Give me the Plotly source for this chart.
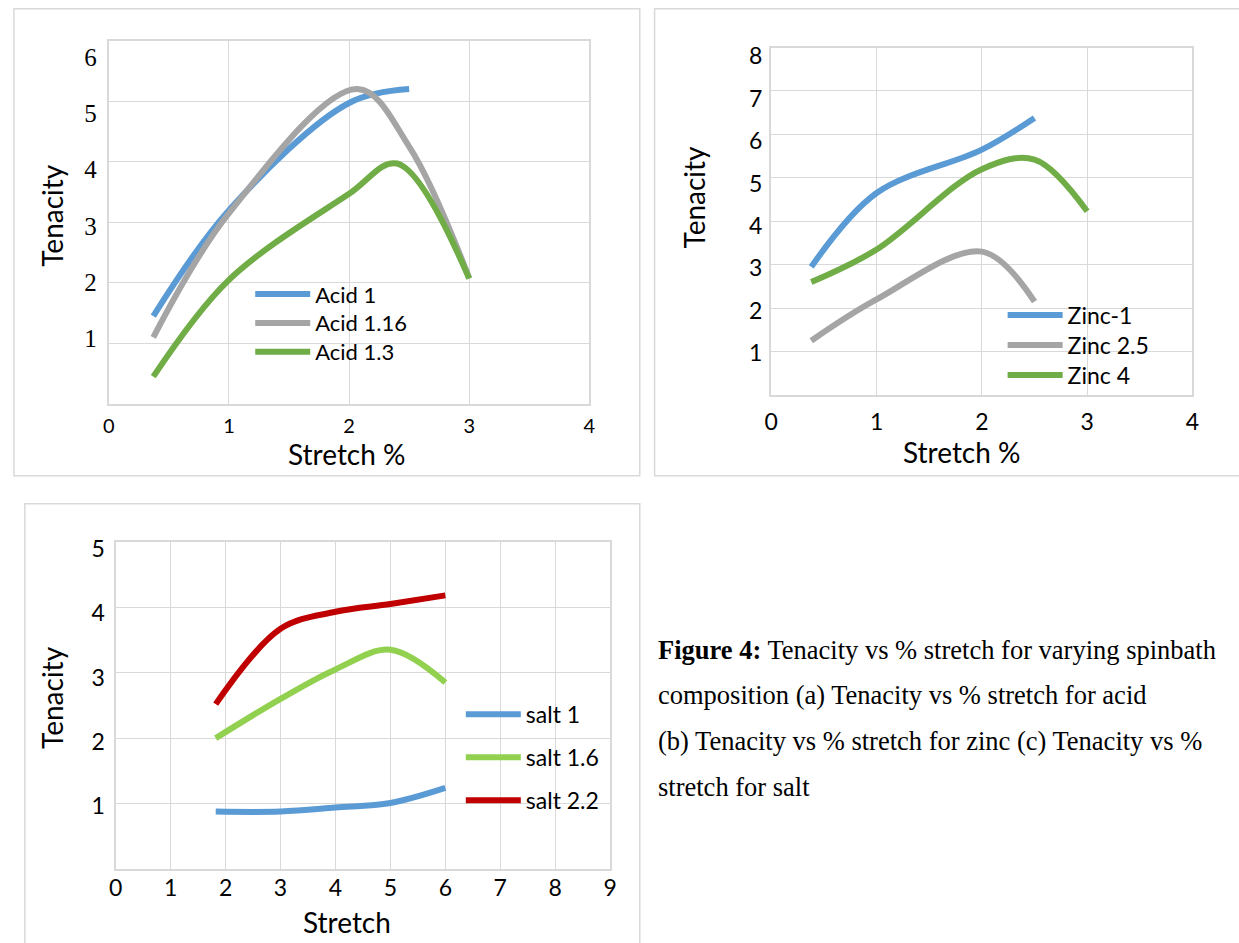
import plotly.graph_objects as go

W, H = 1239, 943
# small vertical correction for how the page is photographed (measured on earlier renders)
CY = 6.4
SY = H / (H + CY)

# ---------------- data ----------------
acid_names = ["Acid 1", "Acid 1.16", "Acid 1.3"]
acid1_x = [0.37, 1.0, 2.0, 2.5]
acid1_y = [1.45, 3.2, 4.97, 5.2]
acid116_x = [0.37, 1.0, 2.07, 2.5, 3.0]
acid116_y = [1.1, 3.15, 5.2, 4.25, 2.08]
acid13_x = [0.37, 1.0, 2.0, 2.4, 3.0]
acid13_y = [0.45, 2.05, 3.47, 3.97, 2.07]

zinc_names = ["Zinc-1", "Zinc 2.5", "Zinc 4"]
zinc1_x = [0.38, 1.0, 2.0, 2.5]
zinc1_y = [2.95, 4.65, 5.65, 6.38]
zinc25_x = [0.38, 1.0, 2.0, 2.5]
zinc25_y = [1.25, 2.2, 3.3, 2.15]
zinc4_x = [0.38, 1.0, 2.0, 2.5, 3.0]
zinc4_y = [2.6, 3.35, 5.2, 5.42, 4.23]

salt_names = ["salt 1", "salt 1.6", "salt 2.2"]
salt_x = [1.82, 3.0, 4.0, 5.0, 6.0]
salt1_y = [0.88, 0.88, 0.94, 1.01, 1.24]
salt16_y = [2.0, 2.6, 3.05, 3.35, 2.85]
salt22_y = [2.52, 3.67, 3.93, 4.05, 4.18]

acid_xticks = [0, 1, 2, 3, 4]
acid_yticks = [1, 2, 3, 4, 5, 6]
zinc_xticks = [0, 1, 2, 3, 4]
zinc_yticks = [1, 2, 3, 4, 5, 6, 7, 8]
salt_xticks = [0, 1, 2, 3, 4, 5, 6, 7, 8, 9]
salt_yticks = [1, 2, 3, 4, 5]

caption_lines = [
    "<b>Figure 4:</b> Tenacity vs % stretch for varying spinbath",
    "composition (a) Tenacity vs % stretch for acid",
    "(b) Tenacity vs % stretch for zinc (c) Tenacity vs %",
    "stretch for salt",
]

# ---------------- styling ----------------
BLUE = "#5B9BD5"
GRAY = "#A5A5A5"
GREEN = "#70AD47"
LGREEN = "#92D050"
RED = "#C00000"
GRID = "#D9D9D9"
SANS = "Lato"
SERIF = "Liberation Serif"
LW = 6


def fx(p):
    # target picture pixel -> paper fraction
    return p / W


def fy(p):
    return 1 - (p / SY - CY) / H


fig = go.Figure()
legend_layout = {}
leg_count = [0]


def add(x, y, name, color, xa, ya, lx, ly, fs):
    leg_count[0] += 1
    key = "legend" if leg_count[0] == 1 else "legend%d" % leg_count[0]
    fig.add_trace(go.Scatter(
        x=x, y=y, name=name, mode="lines",
        line=dict(color=color, width=LW, shape="spline", smoothing=1),
        xaxis=xa, yaxis=ya, legend=key,
        hoverinfo="skip",
    ))
    legend_layout[key] = dict(
        x=fx(lx), y=fy(ly), xanchor="left", yanchor="middle",
        font=dict(family=SANS, size=fs, color="black"),
        bgcolor="rgba(0,0,0,0)", itemwidth=55,
    )


add(acid1_x, acid1_y, acid_names[0], BLUE, "x", "y", 246, 293, 22)
add(acid116_x, acid116_y, acid_names[1], GRAY, "x", "y", 246, 322, 22)
add(acid13_x, acid13_y, acid_names[2], GREEN, "x", "y", 246, 351, 22)

add(zinc1_x, zinc1_y, zinc_names[0], BLUE, "x2", "y2", 1007, 314, 23)
add(zinc25_x, zinc25_y, zinc_names[1], GRAY, "x2", "y2", 1007, 344, 23)
add(zinc4_x, zinc4_y, zinc_names[2], GREEN, "x2", "y2", 1007, 374, 23)

add(salt_x, salt1_y, salt_names[0], BLUE, "x3", "y3", 459, 714, 23)
add(salt_x, salt16_y, salt_names[1], LGREEN, "x3", "y3", 459, 757, 23)
add(salt_x, salt22_y, salt_names[2], RED, "x3", "y3", 459, 800, 23)

# empty traces so the tick-label-only axes are drawn
for xa, ya in [("x", "y4"), ("x2", "y5"), ("x3", "y6")]:
    fig.add_trace(go.Scatter(x=[], y=[], xaxis=xa, yaxis=ya, mode="lines",
                             showlegend=False, hoverinfo="skip"))


def axis(domain, rng, tickvals, font, standoff, anchor, labels=True):
    return dict(
        domain=domain, range=rng, tickvals=tickvals, ticks="",
        showgrid=True, gridcolor=GRID, gridwidth=1.3,
        showline=True, linecolor=GRID, linewidth=1.5, mirror=True,
        zeroline=False, tickfont=font, ticklabelstandoff=standoff,
        anchor=anchor, fixedrange=True, showticklabels=labels,
    )


def label_axis(overlay, anchor, rng, tickvals, font, standoff):
    # tick-label-only axis, follows the slightly uneven label spacing of the original
    return dict(
        overlaying=overlay, anchor=anchor, range=rng, tickvals=tickvals, ticks="",
        showgrid=False, showline=False, zeroline=False, tickfont=font,
        ticklabelstandoff=standoff, fixedrange=True, side="left",
    )


f_serif = dict(family=SERIF, size=25, color="black")
f_sans = dict(family=SANS, size=23, color="black")

fig.update_layout(
    width=W, height=H,
    margin=dict(l=0, r=0, t=0, b=0),
    paper_bgcolor="white", plot_bgcolor="white",
    showlegend=True,
    xaxis=axis([fx(103), fx(589)], [0, 4], acid_xticks,
               dict(family=SANS, size=20, color="black"), 3, "y"),
    yaxis=axis([fy(403), fy(39)], [0, 6], acid_yticks, f_serif, 10, "x", False),
    xaxis2=axis([fx(773), fx(1199)], [0, 4], zinc_xticks, f_sans, 6, "y2"),
    yaxis2=axis([fy(394), fy(46)], [0, 8], zinc_yticks, f_sans, 8, "x2", False),
    xaxis3=axis([fx(110), fx(610)], [0, 9], salt_xticks, f_sans, -2, "y3"),
    yaxis3=axis([fy(869), fy(541)], [0, 5], salt_yticks, f_sans, 10, "x3", False),
    yaxis4=label_axis("y", "x", [-0.161, 6.293], acid_yticks, f_serif, 11),
    yaxis5=label_axis("y2", "x2", [0.014, 8.203], zinc_yticks, f_sans, 8),
    yaxis6=label_axis("y3", "x3", [0.014, 5.115], salt_yticks, f_sans, 10),
    **legend_layout,
)

# panel borders
for (x0, y0, x1, y1) in [(7, 7, 640, 475), (655, 7, 1260, 475), (18, 503, 640, 960)]:
    fig.add_shape(type="rect", xref="paper", yref="paper",
                  x0=fx(x0), x1=fx(x1), y0=fy(y1), y1=fy(y0),
                  line=dict(color=GRID, width=1.5), layer="below")

# axis titles
titles = [
    ("Tenacity", 46, 214, -90), ("Stretch %", 343, 453, 0),
    ("Tenacity", 695, 196, -90), ("Stretch %", 965, 451, 0),
    ("Tenacity", 46, 697, -90), ("Stretch", 344, 922, 0),
]
for text, px, py, ang in titles:
    fig.add_annotation(text=text, x=fx(px), y=fy(py), xref="paper", yref="paper",
                       xanchor="center", yanchor="middle", textangle=ang,
                       showarrow=False, font=dict(family=SANS, size=28, color="black"))

# caption
for i, line in enumerate(caption_lines):
    fig.add_annotation(text=line, x=fx(656), y=fy(649 + 46 * i), xref="paper", yref="paper",
                       xanchor="left", yanchor="middle", showarrow=False,
                       font=dict(family=SERIF, size=26.5, color="black"))

post = ("var d=document.getElementById('{plot_id}');"
        "d.style.position='fixed';d.style.left='0px';d.style.top='0px';"
        "document.body.style.margin='0';document.body.style.overflow='hidden';")
fig.write_html("out.html", config={"displayModeBar": False}, post_script=post)
